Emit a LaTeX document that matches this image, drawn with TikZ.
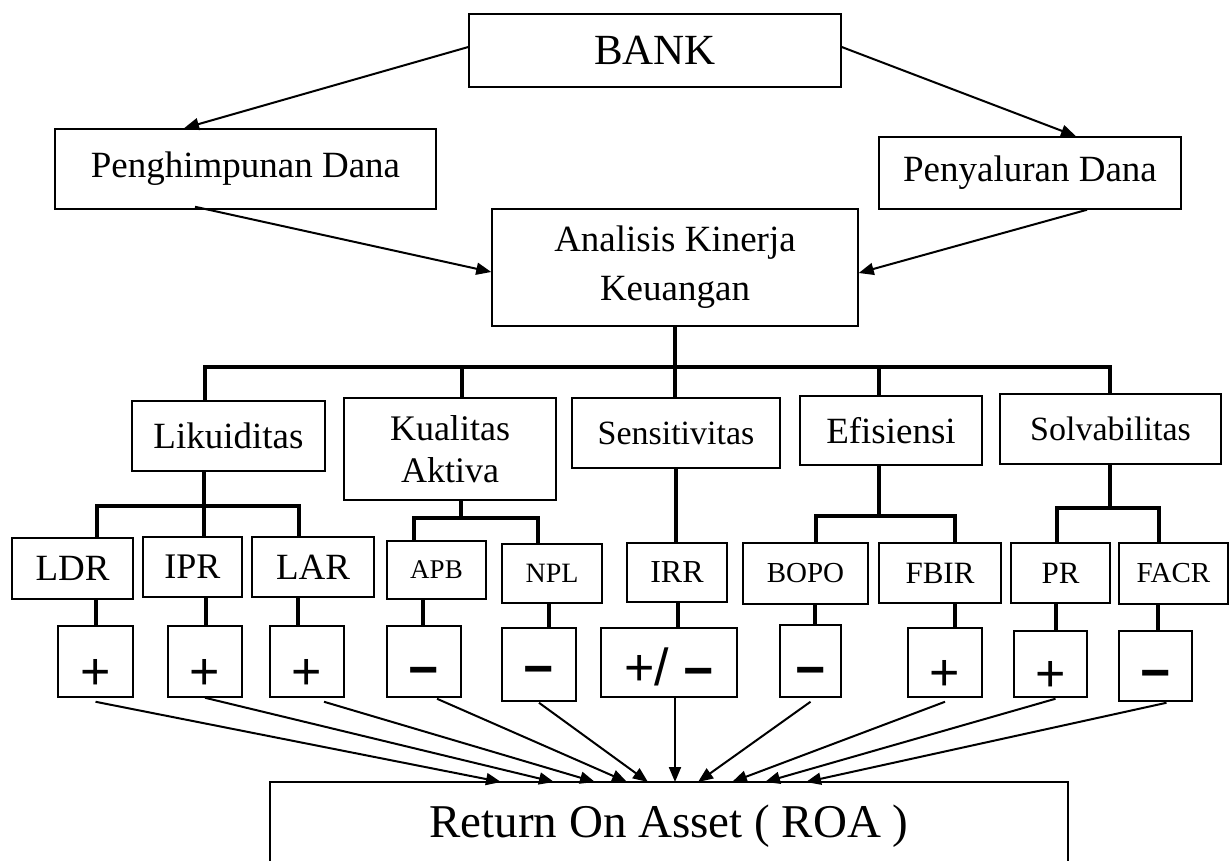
\documentclass[tikz,border=0pt]{standalone}
\usepackage{fontspec}
\setmainfont{Liberation Serif}
\newfontfamily\sgnfont{Liberation Sans}
\usetikzlibrary{arrows.meta}
\newcommand{\sgn}[2]{\raisebox{#1pt}[0pt][0pt]{#2}}
\newcommand{\mns}{{\bfseries −}}
\begin{document}
\begin{tikzpicture}[x=1pt,y=-1pt,
  box/.style={draw,line width=1.5pt,inner sep=0pt,align=center},
  wh/.style 2 args={minimum width=#1pt,minimum height=#2pt},
  fs/.style={font=\fontsize{#1pt}{#1pt}\selectfont},
  fsl/.style 2 args={font=\fontsize{#1pt}{#2pt}\selectfont},
  sign/.style={box,font=\sgnfont\fontsize{52pt}{52pt}\selectfont},
  tree/.style={line width=3.5pt,line join=miter},
  arr/.style={-{Triangle[length=15pt,width=12pt]},line width=2pt}]
\useasboundingbox (0,0) rectangle (1230,860);
\clip (0,0) rectangle (1230,860);
\fill[white] (0,0) rectangle (1230,860);

% top level
\node[box,wh={372}{73},fs=43] (bank) at (655,50.5) {BANK};
\node[box,wh={381}{80},fs=37] (peng) at (245.5,169) {Penghimpunan Dana};
\node[box,wh={302}{72},fs=37] (peny) at (1030,173) {Penyaluran Dana};
\node[box,wh={366}{117},fsl={37}{49}] (ana) at (675,267.5) {Analisis Kinerja\\Keuangan};

% second level
\node[box,wh={193}{70},fs=37] (lik) at (228.5,436) {Likuiditas};
\node[box,wh={212}{102},fsl={36}{42}] (kua) at (450,449) {Kualitas\\Aktiva};
\node[box,wh={208}{70},fs=34] (sen) at (676,433) {Sensitivitas};
\node[box,wh={182}{69},fs=37] (efi) at (891,430.5) {Efisiensi};
\node[box,wh={221}{70},fs=34] (sol) at (1110.5,429) {Solvabilitas};

% third level
\node[box,wh={121}{61},fs=37] (ldr) at (72.5,568.5) {LDR};
\node[box,wh={99}{60},fs=36] (ipr) at (192.5,567) {IPR};
\node[box,wh={122}{60},fs=37] (lar) at (313,567) {LAR};
\node[box,wh={99}{58},fs=27] (apb) at (436.5,570) {APB};
\node[box,wh={100}{59},fs=28] (npl) at (552,573.5) {NPL};
\node[box,wh={100}{59},fs=32] (irr) at (677,572.5) {IRR};
\node[box,wh={125}{61},fs=29] (bopo) at (805.5,573.5) {BOPO};
\node[box,wh={122}{60},fs=31] (fbir) at (940,573) {FBIR};
\node[box,wh={99}{60},fs=31] (pr) at (1060.5,573) {PR};
\node[box,wh={109}{61},fs=29] (facr) at (1173.5,573.5) {FACR};

% sign boxes
\node[sign,wh={75}{71}] (s1) at (95.5,661.5) {\sgn{-28}{+}};
\node[sign,wh={74}{71}] (s2) at (205,661.5) {\sgn{-28}{+}};
\node[sign,wh={74}{71}] (s3) at (307,661.5) {\sgn{-28}{+}};
\node[sign,wh={74}{71}] (s4) at (424,661.5) {\sgn{-26}{\mns}};
\node[sign,wh={74}{73}] (s5) at (539,664.5) {\sgn{-22}{\mns}};
\node[sign,wh={136}{69}] (s6) at (669,662.5) {\sgn{-23}{+/ \raisebox{-3pt}{\mns}}};
\node[sign,wh={61}{72}] (s7) at (810.5,661) {\sgn{-26}{\mns}};
\node[sign,wh={74}{69}] (s8) at (945,662.5) {\sgn{-28}{+}};
\node[sign,wh={73}{66}] (s9) at (1050.5,664) {\sgn{-27.5}{+}};
\node[sign,wh={73}{70}] (s10) at (1155.5,666) {\sgn{-24}{\mns}};

% bottom
\node[box,wh={798}{88},fs=47] (roa) at (669,826) {Return On Asset ( ROA )};

% top arrows
\draw[arr] ([yshift=3.5pt]bank.west) -- ([xshift=-61.5pt]peng.north);
\draw[arr] ([yshift=3.5pt]bank.east) -- ([xshift=46pt]peny.north);
\draw[arr] ([xshift=-50.5pt,yshift=3pt]peng.south) -- ([yshift=-4.5pt]ana.west);
\draw[arr] ([xshift=57pt]peny.south) -- ([yshift=-5.5pt]ana.east);

% main bus
\coordinate (bL) at (205,367);
\coordinate (bK) at (462,367);
\coordinate (bE) at (879,367);
\coordinate (bR) at (1110,367);
\draw[tree] (ana.south) -- (ana.south |- bL);
\draw[tree] (bL |- lik.north) -- (bL) -- (bR) -- (bR |- sol.north);
\draw[tree] (bK) -- (bK |- kua.north);
\draw[tree] (ana.south |- bL) -- (ana.south |- sen.north);
\draw[tree] (bE) -- (bE |- efi.north);

% Likuiditas group
\coordinate (lt) at (204,506);
\coordinate (lA) at (97,506);
\coordinate (lC) at (299,506);
\draw[tree] (lt |- lik.south) -- (lt) -- (lt |- ipr.north);
\draw[tree] (lA |- ldr.north) -- (lA) -- (lC) -- (lC |- lar.north);

% Kualitas group
\coordinate (kt) at (461,518);
\coordinate (kA) at (414,518);
\coordinate (kC) at (538,518);
\draw[tree] (kt |- kua.south) -- (kt);
\draw[tree] (kA |- apb.north) -- (kA) -- (kC) -- (kC |- npl.north);

% Sensitivitas
\draw[tree] (sen.south) -- (sen.south |- irr.north);

% Efisiensi group
\coordinate (et) at (879,516);
\coordinate (eA) at (816,516);
\coordinate (eC) at (955,516);
\draw[tree] (et |- efi.south) -- (et);
\draw[tree] (eA |- bopo.north) -- (eA) -- (eC) -- (eC |- fbir.north);

% Solvabilitas group
\coordinate (ot) at (1110,508);
\coordinate (oA) at (1057,508);
\coordinate (oC) at (1159,508);
\draw[tree] (ot |- sol.south) -- (ot);
\draw[tree] (oA |- pr.north) -- (oA) -- (oC) -- (oC |- facr.north);

% indicator to sign connectors
\coordinate (c1) at ([xshift=23.5pt]ldr.south);
\coordinate (c2) at ([xshift=13.5pt]ipr.south);
\coordinate (c3) at ([xshift=-15pt]lar.south);
\coordinate (c4) at ([xshift=-13.5pt]apb.south);
\coordinate (c5) at ([xshift=-3pt]npl.south);
\coordinate (c6) at ([xshift=1pt]irr.south);
\coordinate (c7) at ([xshift=9.5pt]bopo.south);
\coordinate (c8) at ([xshift=15pt]fbir.south);
\coordinate (c9) at ([xshift=-4.5pt]pr.south);
\coordinate (c10) at ([xshift=-15.5pt]facr.south);
\draw[tree] (c1) -- (c1 |- s1.north);
\draw[tree] (c2) -- (c2 |- s2.north);
\draw[tree] (c3) -- (c3 |- s3.north);
\draw[tree] (c4) -- (c4 |- s4.north);
\draw[tree] (c5) -- (c5 |- s5.north);
\draw[tree] (c6) -- (c6 |- s6.north);
\draw[tree] (c7) -- (c7 |- s7.north);
\draw[tree] (c8) -- (c8 |- s8.north);
\draw[tree] (c9) -- (c9 |- s9.north);
\draw[tree] (c10) -- (c10 |- s10.north);

% arrows to ROA
\coordinate (r1) at (501,782);
\coordinate (r2) at (554,782);
\coordinate (r3) at (595,782);
\coordinate (r4) at (627,782);
\coordinate (r5) at (648,782);
\coordinate (r6) at (675,782);
\coordinate (r7) at (698,782);
\coordinate (r8) at (732,782);
\coordinate (r9) at (765,782);
\coordinate (r10) at (806,782);
\draw[arr] ([yshift=-4pt]s1.south) -- (r1);
\draw[arr] (s2.south) -- (r2);
\draw[arr] ([xshift=17pt,yshift=-4pt]s3.south) -- (r3);
\draw[arr] ([xshift=13pt,yshift=-1pt]s4.south) -- (r4);
\draw[arr] ([yshift=-1pt]s5.south) -- (r5);
\draw[arr] ([xshift=6pt]s6.south) -- (r6);
\draw[arr] ([yshift=-4pt]s7.south) -- (r7);
\draw[arr] ([yshift=-4pt]s8.south) -- (r8);
\draw[arr] ([xshift=5pt,yshift=-1pt]s9.south) -- (r9);
\draw[arr] ([xshift=11pt,yshift=-1pt]s10.south) -- (r10);
\end{tikzpicture}
\end{document}
